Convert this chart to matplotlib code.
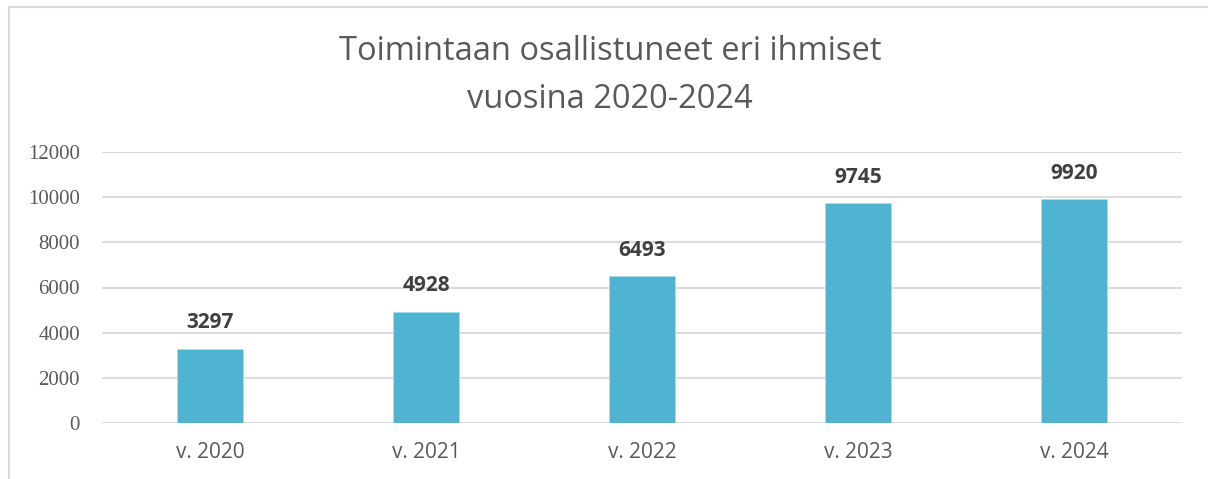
import matplotlib
matplotlib.use('Agg')
import matplotlib.pyplot as plt
from matplotlib.lines import Line2D

years = ['v. 2020', 'v. 2021', 'v. 2022', 'v. 2023', 'v. 2024']
people = [3297, 4928, 6493, 9745, 9920]
yticks = [0, 2000, 4000, 6000, 8000, 10000, 12000]

fig = plt.figure(figsize=(12.08, 4.79), dpi=100)
ax = fig.add_axes([102 / 1208, 1 - 423 / 479, 1080 / 1208, 271 / 479])

x = range(len(years))
ax.bar(x, people, width=0.31, color='#4FB3D1', edgecolor='#A8DCEB', linewidth=0.6, zorder=3)
ax.set_xlim(-0.5, 4.5)
ax.set_ylim(0, 12000)
ax.set_yticks(yticks)
ax.set_yticklabels([str(v) for v in yticks], fontfamily='Liberation Serif', fontsize=15, color='#595959')
ax.set_xticks(list(x))
ax.set_xticklabels(years, fontfamily='Open Sans', fontsize=15, color='#595959')
ax.tick_params(axis='both', length=0)
ax.tick_params(axis='y', pad=16)
ax.tick_params(axis='x', pad=14)
ax.grid(axis='y', color='#D9D9D9', linewidth=1.3, zorder=0)
for s in ax.spines.values():
    s.set_visible(False)

# numbers above the bars
for a, b in zip(x, people):
    ax.annotate('%d' % b, (a, b), xytext=(0, 11), textcoords='offset points',
                ha='center', va='bottom', fontsize=15, fontweight='bold',
                fontfamily='Open Sans', color='#404040')

fig.text(0.505, 1 - 51 / 479, 'Toimintaan osallistuneet eri ihmiset', ha='center', va='center',
         fontsize=23.5, fontfamily='Open Sans', color='#595959')
fig.text(0.505, 1 - 99 / 479, 'vuosina 2020-2024', ha='center', va='center',
         fontsize=23.5, fontfamily='Open Sans', color='#595959')

# chart border (cropped)
fig.add_artist(Line2D([9 / 1208, 9 / 1208], [0, 1 - 7 / 479], color='#D9D9D9', linewidth=1.5))
fig.add_artist(Line2D([9 / 1208, 1], [1 - 7 / 479, 1 - 7 / 479], color='#D9D9D9', linewidth=1.5))

fig.savefig('out.png', dpi=100)
